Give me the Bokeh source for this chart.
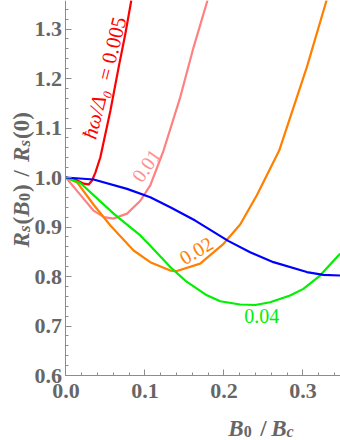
import math
from bokeh.plotting import figure
from bokeh.models import Range1d, SingleIntervalTicker, PrintfTickFormatter, Label, LinearAxis
from bokeh.embed import file_html
from bokeh.resources import INLINE

# ---- data ----
x_005 = [0.0, 0.0133, 0.0225, 0.0288, 0.0331, 0.0373, 0.0436, 0.0563, 0.0668, 0.0752, 0.0828]
y_005 = [1.0, 0.995, 0.9875, 0.986, 0.994, 1.010, 1.041, 1.135, 1.223, 1.290, 1.358]

x_001 = [0.0, 0.0183, 0.0351, 0.048, 0.060, 0.0774, 0.0942, 0.1068, 0.1236, 0.1447, 0.1616, 0.1793]
y_001 = [1.0, 0.965, 0.933, 0.920, 0.917, 0.927, 0.953, 0.984, 1.0545, 1.162, 1.263, 1.358]

x_002 = [0.0, 0.0142, 0.0351, 0.0563, 0.0857, 0.1068, 0.1321, 0.1406, 0.170, 0.1995, 0.2206,
         0.2417, 0.270, 0.305, 0.330]
y_002 = [1.0, 0.990, 0.945, 0.903, 0.8525, 0.829, 0.812, 0.811, 0.826, 0.866, 0.905,
         0.964, 1.0545, 1.223, 1.358]

x_004 = [0.0, 0.0183, 0.0604, 0.0774, 0.0942, 0.1068, 0.1321, 0.1532, 0.1785, 0.1953, 0.2206,
         0.2396, 0.2585, 0.2838, 0.3006, 0.3217, 0.347]
y_004 = [1.0, 0.989, 0.927, 0.905, 0.883, 0.862, 0.819, 0.789, 0.762, 0.750, 0.7434,
         0.7424, 0.748, 0.7616, 0.775, 0.802, 0.846]

x_blue = [0.0, 0.0351, 0.0774, 0.1068, 0.1321, 0.1637, 0.2054, 0.2332, 0.2627, 0.305, 0.326, 0.347]
y_blue = [1.0, 0.996, 0.977, 0.960, 0.940, 0.913, 0.872, 0.849, 0.829, 0.809, 0.8034, 0.802]

series = [
    (x_005, y_005, "#FF0000"),
    (x_001, y_001, "#FF8080"),
    (x_002, y_002, "#FF7F00"),
    (x_004, y_004, "#00F000"),
    (x_blue, y_blue, "#0000FF"),
]

X_MIN, X_MAX = 0.0, 0.3476
Y_MIN, Y_MAX = 0.6, 1.3576
# frame covers the whole canvas; axis texts live inside it
p = figure(width=340, height=440, output_backend="svg", toolbar_location=None,
           x_range=Range1d(-0.0828, X_MAX), y_range=Range1d(0.4687, Y_MAX),
           x_axis_type=None, y_axis_type=None, min_border=0)
p.outline_line_color = None
p.grid.visible = False
p.background_fill_color = "white"
p.border_fill_color = "white"

for xs, ys, c in series:
    p.line(xs, ys, line_width=2.2, color=c, line_join="round")

AX = "#8c8c8c"
LAB = "#666666"
xaxis = LinearAxis(fixed_location=Y_MIN, bounds=(X_MIN, X_MAX))
yaxis = LinearAxis(fixed_location=X_MIN, bounds=(Y_MIN, Y_MAX))
p.add_layout(xaxis, "below")
p.add_layout(yaxis, "left")
for ax in (xaxis, yaxis):
    ax.axis_line_color = AX
    ax.major_tick_line_color = AX
    ax.minor_tick_line_color = AX
    ax.major_tick_in = 6
    ax.major_tick_out = 0
    ax.minor_tick_in = 3
    ax.minor_tick_out = 0
    ax.major_label_text_font = "Liberation Serif"
    ax.major_label_text_font_style = "bold"
    ax.major_label_text_font_size = "22px"
    ax.major_label_text_color = LAB
    ax.ticker = SingleIntervalTicker(interval=0.1, num_minor_ticks=5)
    ax.formatter = PrintfTickFormatter(format="%.1f")
xaxis.major_label_standoff = 8
yaxis.major_label_standoff = 4


def wx(xw):
    return (xw - 65.5) / 791.0


def wy(yw):
    return 0.6 + (375 - yw) / 495.0


def piece(text, xw, yw, size, style, angle=0.0, color=LAB, align="left", baseline="alphabetic"):
    p.add_layout(Label(x=wx(xw), y=wy(yw), text=text, angle=angle,
                       text_font="Liberation Serif", text_font_size=size,
                       text_font_style=style, text_color=color,
                       text_align=align, text_baseline=baseline))


# x axis label  B0 / Bc
XB, XS = 428, 431
piece("B", 228, XB, "23px", "bold italic")
piece("0", 243.5, XS, "16px", "bold")
piece("/", 260, XB, "23px", "bold")
piece("B", 271, XB, "23px", "bold italic")
piece("c", 286.5, XS, "16px", "bold italic")

# y axis label  Rs(B0) / Rs(0)  (rotated, reads bottom to top)
A = math.pi / 2
MB = 21
SB = 24
piece("R", MB, 247, "23px", "bold italic", A)
piece("s", SB, 231.5, "17px", "bold italic", A)
piece("(", MB, 224, "23px", "bold", A)
piece("B", MB, 216.3, "23px", "bold italic", A)
piece("0", SB, 200.5, "16px", "bold", A)
piece(")", MB, 191.5, "23px", "bold", A)
piece("/", MB, 176, "23px", "bold", A)
piece("R", MB, 161.5, "23px", "bold italic", A)
piece("s", SB, 146, "17px", "bold italic", A)
piece("(0)", MB, 138.5, "23px", "bold", A)

# curve labels
ang_red = math.radians(76)
piece("\u0127\u03c9/\u0394\u2080", 95, 113.3, "21px", "italic", ang_red, "#FF0000", "center", "middle")
piece("= 0.005", 111.6, 48, "21px", "normal", ang_red, "#FF0000", "center", "middle")
piece("0.01", 146, 165, "20px", "normal", math.radians(55), "#FF9090", "center", "middle")
piece("0.02", 196, 250, "20px", "normal", math.radians(31), "#FF7F00", "center", "middle")
piece("0.04", 261.7, 315.8, "20px", "normal", 0.0, "#00F000", "center", "middle")

open("out.html", "w").write(file_html(p, INLINE))
